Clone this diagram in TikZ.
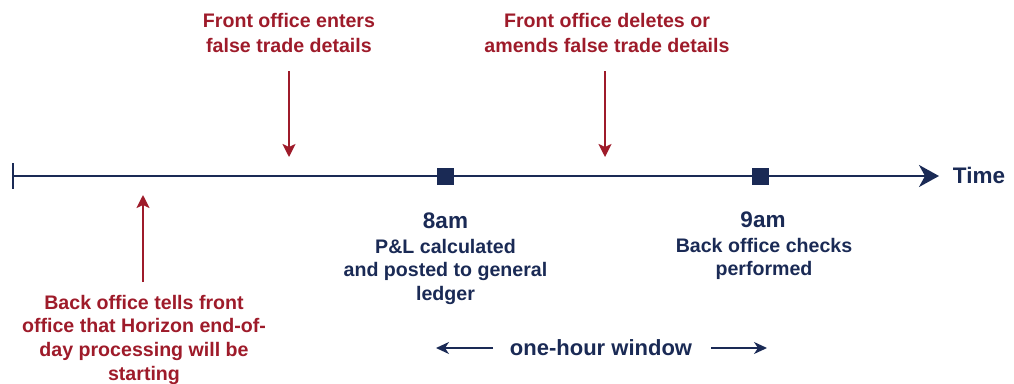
\documentclass[tikz,border=0pt]{standalone}
\usepackage{fontspec}
\setmainfont{Liberation Sans}
\usetikzlibrary{arrows.meta}
\definecolor{navy}{HTML}{1A2A55}
\definecolor{dred}{HTML}{9E1B2A}
\begin{document}
\begin{tikzpicture}[x=1pt,y=-1pt,
  redtxt/.style={text=dred,font=\bfseries\fontsize{19.6}{25}\selectfont,align=center,inner sep=0pt,anchor=base},
  bluetxt/.style={text=navy,font=\bfseries\fontsize{19.6}{23.7}\selectfont,align=center,inner sep=0pt,anchor=base},
  bigtxt/.style={text=navy,font=\bfseries\fontsize{22.5}{26}\selectfont,inner sep=0pt,anchor=base},
  redarrow/.style={draw=dred,line width=2pt,-{Stealth[length=13pt,width=13pt,inset=3pt]}},
  bluearrow/.style={draw=navy,line width=1.8pt,-{Stealth[length=13pt,width=12pt,inset=4pt]}},
  sq/.style={fill=navy,minimum size=17pt,inner sep=0pt}]
\useasboundingbox (0,0) rectangle (1014,383);
% timeline
\coordinate (start) at (13,176);
\coordinate (tip) at (939,176);
\draw[navy,line width=2pt] (13,163) -- (13,189);
\draw[navy,line width=2pt,-{Stealth[length=20pt,width=22pt,inset=6pt]}] (start) -- (tip);
\node[bigtxt] (time) at (979,183) {Time};
% squares
\node[sq] (s8) at (445,176) {};
\node[sq] (s9) at (760,176) {};
\node[bigtxt] (t8) at (445.5,228) {8am};
\node[bluetxt] (d8) at (445.5,300.4) {P\&L calculated\\and posted to general\\ledger};
\node[bigtxt] (t9) at (763,227) {9am};
\node[bluetxt] (d9) at (764,275.7) {Back office checks\\performed};
% red top annotations
\node[redtxt] (fa) at (289,52) {Front office enters\\false trade details};
\coordinate (fa1) at (289,71);
\coordinate (fa2) at (289,157);
\draw[redarrow] (fa1) -- (fa2);
\node[redtxt] (fb) at (607,52) {Front office deletes or\\amends false trade details};
\coordinate (fb1) at (605,71);
\coordinate (fb2) at (605,157);
\draw[redarrow] (fb1) -- (fb2);
% red bottom annotation
\node[redtxt,font=\bfseries\fontsize{19.6}{23.8}\selectfont] (bo) at (144,380.4) {Back office tells front\\office that Horizon end-of-\\day processing will be\\starting};
\coordinate (bo1) at (143,282);
\coordinate (bo2) at (143,195);
\draw[redarrow] (bo1) -- (bo2);
% window
\node[text=navy,font=\bfseries\fontsize{22}{26}\selectfont,inner sep=0pt,anchor=base] (win) at (601,355) {one-hour window};
\coordinate (wl1) at (493,348);
\coordinate (wl2) at (436,348);
\coordinate (wr1) at (711,348);
\coordinate (wr2) at (767,348);
\draw[bluearrow] (wl1) -- (wl2);
\draw[bluearrow] (wr1) -- (wr2);
\end{tikzpicture}
\end{document}
